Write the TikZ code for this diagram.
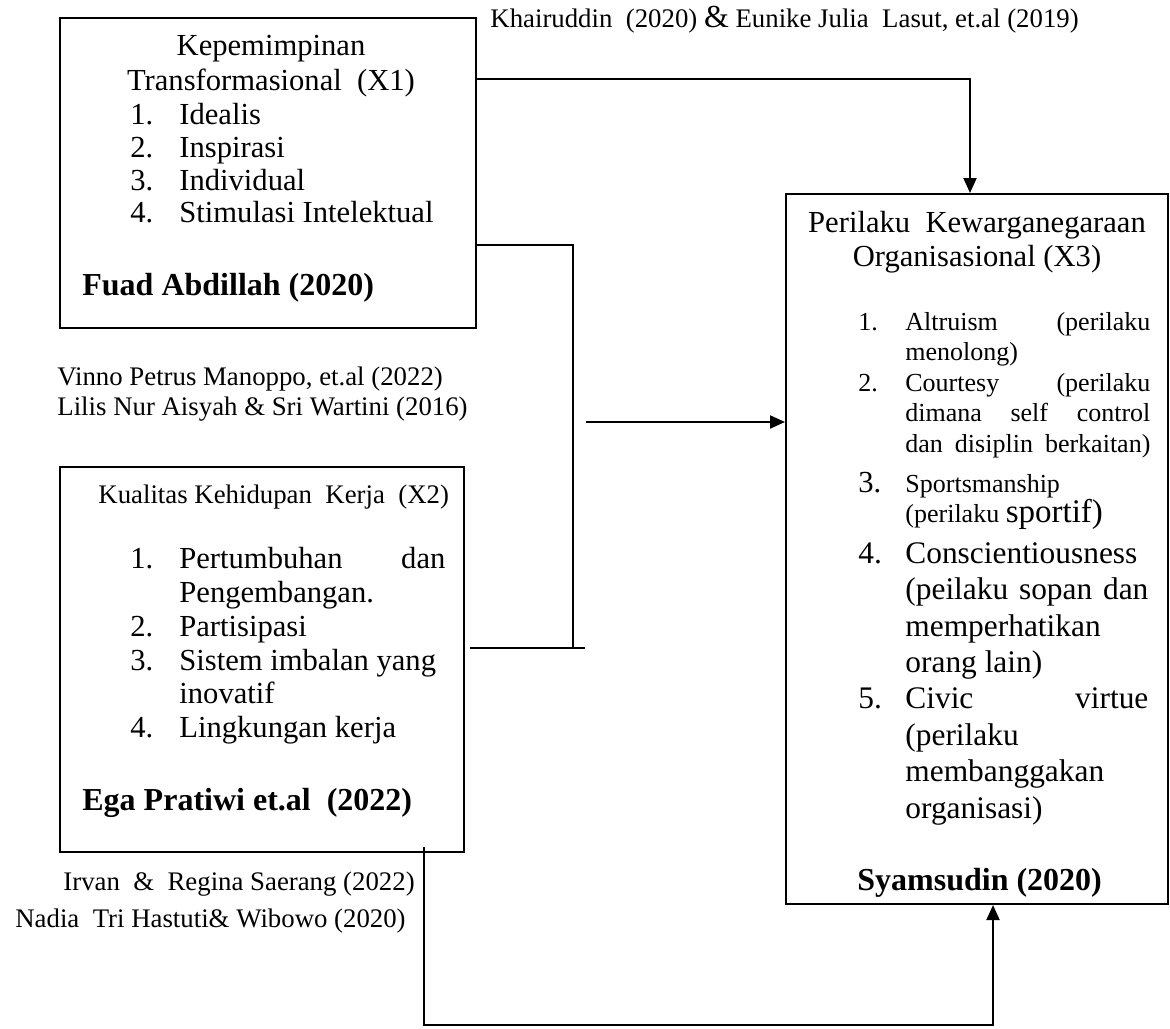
\documentclass[tikz,border=0pt]{standalone}
\usepackage{fontspec}
\setmainfont{Liberation Serif}
\usetikzlibrary{arrows.meta}
\newcommand{\itm}[2][24.5pt]{\makebox[#1][l]{#2}}
\begin{document}
\begin{tikzpicture}[x=0.5pt,y=-0.5pt,
  box/.style={draw,line width=1pt,inner sep=0pt,anchor=north west},
  lnk/.style={line width=1pt},
  arr/.style={line width=1pt,-{Triangle[length=7.5pt,width=6.5pt]}},
  small/.style={font={\fontsize{13.4}{15}\selectfont},inner sep=0pt,anchor=base west},
  main/.style={inner sep=0pt,align=left,anchor=north west},
  auth/.style={font={\fontsize{16}{18}\selectfont\bfseries},inner sep=0pt,anchor=base west}]
\useasboundingbox (0,0) rectangle (1170,1028);
\node[box,minimum width=208pt,minimum height=155pt] (x1) at (59,17) {};
\node[box,minimum width=202pt,minimum height=192.5pt] (x2) at (59,466) {};
\node[box,minimum width=191pt,minimum height=355pt] (x3) at (785,193) {};
\node[main,align=center,anchor=north,font={\fontsize{15.3}{17.5}\selectfont}] (x1title) at (271,35) {Kepemimpinan\\Transformasional\ \ (X1)};
\node[main,font={\fontsize{15.3}{16.35}\selectfont}] (x1list) at (130,103) {\itm{1.}Idealis\\\itm{2.}Inspirasi\\\itm{3.}Individual\\\itm{4.}Stimulasi Intelektual};
\node[auth] (x1auth) at (82,295) {Fuad Abdillah (2020)};
\node[small] (x2title) at (98,503) {Kualitas Kehidupan\ \ Kerja\ \ (X2)};
\node[main,font={\fontsize{15.3}{16.9}\selectfont}] (x2list) at (130,547) {\itm{1.}\makebox[133pt][s]{Pertumbuhan dan}\\\itm{}Pengembangan.\\\itm{2.}Partisipasi\\\itm{3.}Sistem imbalan yang\\\itm{}inovatif\\\itm{4.}Lingkungan kerja};
\node[auth] (x2auth) at (82,810) {Ega Pratiwi et.al\ \ (2022)};
\node[main,align=center,anchor=north,font={\fontsize{15.3}{17}\selectfont}] (x3title) at (977,211) {Perilaku\ \ Kewarganegaraan\\Organisasional (X3)};
\node[main,font={\fontsize{13}{15.25}\selectfont}] (x3a) at (858,312) {\itm[23.5pt]{1.}\makebox[122.5pt][s]{Altruism (perilaku}\\\itm[23.5pt]{}menolong)\\\itm[23.5pt]{2.}\makebox[122.5pt][s]{Courtesy (perilaku}\\\itm[23.5pt]{}\makebox[122.5pt][s]{dimana self control}\\\itm[23.5pt]{}\makebox[122.5pt][s]{dan disiplin berkaitan)}};
\node[inner sep=0pt,anchor=base west] (x3b) at (858,492) {\fontsize{15.3}{17}\selectfont\itm[23.5pt]{3.}\fontsize{13}{15}\selectfont Sportsmanship};
\node[inner sep=0pt,anchor=base west] (x3c) at (905,522) {\fontsize{13}{15}\selectfont(perilaku \fontsize{16.5}{18}\selectfont sportif)};
\node[main,font={\fontsize{15.7}{18.2}\selectfont}] (x3d) at (858,542) {\itm[23.5pt]{4.}Conscientiousness\\\itm[23.5pt]{}\makebox[121.5pt][s]{(peilaku sopan dan}\\\itm[23.5pt]{}memperhatikan\\\itm[23.5pt]{}orang lain)\\\itm[23.5pt]{5.}\makebox[121.5pt][s]{Civic virtue}\\\itm[23.5pt]{}(perilaku\\\itm[23.5pt]{}membanggakan\\\itm[23.5pt]{}organisasi)};
\node[auth] (x3auth) at (857,890) {Syamsudin (2020)};
\node[small] (ref1) at (490,27) {Khairuddin\ \ (2020) {\fontsize{16}{16}\selectfont\&} Eunike Julia\ \ Lasut, et.al (2019)};
\node[small] (ref2) at (57,385) {Vinno Petrus Manoppo, et.al (2022)};
\node[small] (ref3) at (57,415) {Lilis Nur Aisyah \& Sri Wartini (2016)};
\node[small] (ref4) at (63,890) {Irvan\ \ \&\ \ Regina Saerang (2022)};
\node[small] (ref5) at (15,927) {Nadia\ \ Tri Hastuti\& Wibowo (2020)};
\coordinate (k1) at (970,79);
\coordinate (b1) at (573,245);
\coordinate (b2) at (573,648);
\coordinate (b3) at (585,648);
\coordinate (m1) at (586,422);
\coordinate (d1) at (424,1025);
\coordinate (d2) at (993,1025);
\draw[arr] (x1.east |- k1) -- (k1) -- (k1 |- x3.north);
\draw[lnk] (x1.east |- b1) -- (b1) -- (b2);
\draw[lnk] ([xshift=2.5pt]x2.east |- b2) -- (b3);
\draw[arr] (m1) -- (m1 -| x3.west);
\draw[arr] ([yshift=3pt]d1 |- x2.south) -- (d1) -- (d2) -- (d2 |- x3.south);
\end{tikzpicture}
\end{document}
